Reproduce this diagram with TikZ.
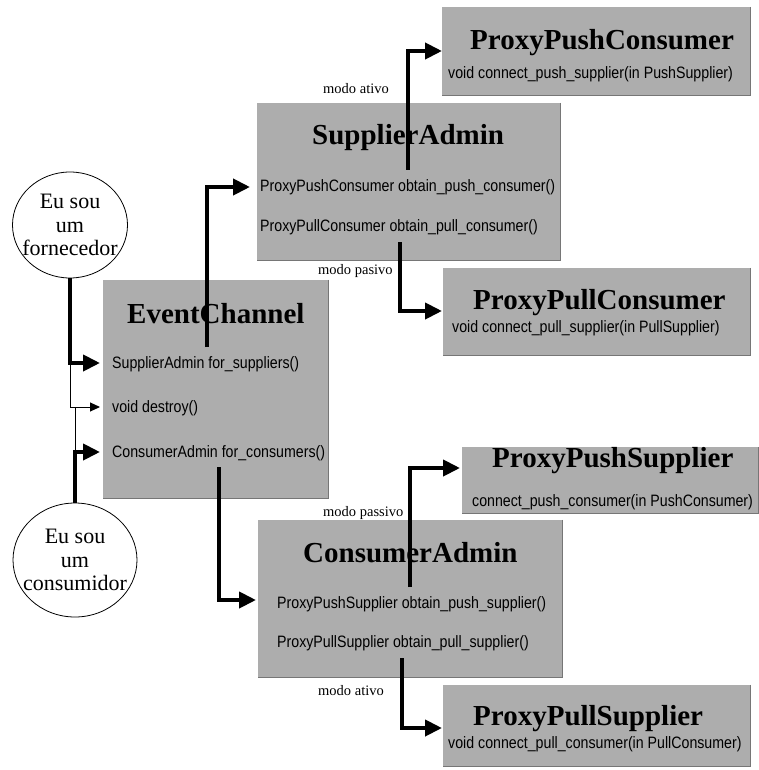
\documentclass[tikz,border=0pt]{standalone}
\usepackage{fontspec}
\setmainfont{Liberation Serif}
\newfontfamily\methodfont[FakeStretch=0.86]{Liberation Sans}
\usetikzlibrary{arrows.meta,shapes.geometric}
\definecolor{panelgray}{RGB}{173,173,173}
\definecolor{paneledge}{RGB}{118,118,118}
\begin{document}
\begin{tikzpicture}[x=1pt,y=-1pt,
  panel/.style={fill=panelgray, inner sep=0pt},
  edge/.style={draw=paneledge, line width=1.3pt},
  title/.style={anchor=base west, inner sep=0pt, font=\fontsize{29}{31}\selectfont\bfseries},
  method/.style={anchor=base west, inner sep=0pt, font=\methodfont\fontsize{16.5}{18}\selectfont},
  modelabel/.style={anchor=base west, inner sep=0pt, font=\fontsize{14.5}{16}\selectfont},
  actor/.style={ellipse, draw, line width=0.8pt, inner sep=0pt},
  actortext/.style={align=center, inner sep=0pt, font=\fontsize{22}{23.5}\selectfont},
  flow/.style={line width=4pt, line join=miter, -{Triangle[length=17pt,width=16pt]}},
  thinflow/.style={line width=1pt, -{Triangle[length=10pt,width=9pt]}},
  thinlink/.style={line width=1pt}]
\useasboundingbox (0,0) rectangle (758,770);
\fill[white] (0,0) rectangle (758,770);

% panels
\node[panel, minimum width=308pt, minimum height=88pt]  (ppc)  at (596,51)    {};
\node[panel, minimum width=303pt, minimum height=157pt] (sa)   at (408.5,181.5) {};
\node[panel, minimum width=307pt, minimum height=87pt]  (pplc) at (596.5,311.5) {};
\node[panel, minimum width=225pt, minimum height=218pt] (ec)   at (215.5,389) {};
\node[panel, minimum width=296pt, minimum height=66pt]  (pps)  at (610,480)   {};
\node[panel, minimum width=304pt, minimum height=157pt] (ca)   at (410,598.5) {};
\node[panel, minimum width=307pt, minimum height=81pt]  (pls)  at (596.5,725.5) {};
\foreach \b in {ppc,sa,pplc,ec,pps,ca,pls}
  \draw[edge] (\b.north east) -- (\b.south east) -- (\b.south west);

% titles
\node[title] (ppc-t)  at (470,50)  {ProxyPushConsumer};
\node[title] (sa-t)   at (312,145) {SupplierAdmin};
\node[title] (pplc-t) at (473,309) {ProxyPullConsumer};
\node[title] (ec-t)   at (127,323) {EventChannel};
\node[title] (pps-t)  at (492,467) {ProxyPushSupplier};
\node[title] (ca-t)   at (303,562) {ConsumerAdmin};
\node[title] (pls-t)  at (473,725) {ProxyPullSupplier};

% operations
\node[method] (ppc-m)  at (448,79)  {void connect\_push\_supplier(in PushSupplier)};
\node[method] (sa-m1)  at (260,191) {ProxyPushConsumer obtain\_push\_consumer()};
\node[method] (sa-m2)  at (260,231) {ProxyPullConsumer obtain\_pull\_consumer()};
\node[method] (pplc-m) at (452,332) {void connect\_pull\_supplier(in PullSupplier)};
\node[method] (ec-m1)  at (112,368) {SupplierAdmin for\_suppliers()};
\node[method] (ec-m2)  at (112,412) {void destroy()};
\node[method] (ec-m3)  at (112,457) {ConsumerAdmin for\_consumers()};
\node[method] (pps-m)  at (472,506) {connect\_push\_consumer(in PushConsumer)};
\node[method] (ca-m1)  at (277,608) {ProxyPushSupplier obtain\_push\_supplier()};
\node[method] (ca-m2)  at (277,647) {ProxyPullSupplier obtain\_pull\_supplier()};
\node[method] (pls-m)  at (448,748) {void connect\_pull\_consumer(in PullConsumer)};

% mode labels
\node[modelabel] (lbl-a1) at (323,94)  {modo ativo};
\node[modelabel] (lbl-p1) at (318,274) {modo pasivo};
\node[modelabel] (lbl-p2) at (323,516) {modo passivo};
\node[modelabel] (lbl-a2) at (318,695) {modo ativo};

% actors
\node[actor, minimum width=115pt, minimum height=106pt] (forn) at (70,225) {};
\node[actortext] (forn-t) at (forn) {Eu sou\\um\\fornecedor};
\node[actor, minimum width=124pt, minimum height=114pt] (cons) at (75,560) {};
\node[actortext] (cons-t) at (cons) {Eu sou\\um\\consumidor};

% connector end points
\coordinate (ec-up)  at (207,347);
\coordinate (ec-dn)  at (219,467);
\coordinate (sa-in)  at (250,187);
\coordinate (sa-up)  at (408,170);
\coordinate (sa-dn)  at (400,242);
\coordinate (ca-in)  at (256,600);
\coordinate (ca-up)  at (410,587);
\coordinate (ca-dn)  at (402,658);
\coordinate (ppc-in) at (442,51);
\coordinate (pplc-in) at (442,311);
\coordinate (pps-in) at (460,468);
\coordinate (pls-in) at (442,728);
\coordinate (ec-in1) at (100,363);
\coordinate (ec-in2) at (100,407);
\coordinate (ec-in3) at (100,452);

% connectors
\draw[flow] (ec-up) |- (sa-in);
\draw[flow] (sa-up) |- (ppc-in);
\draw[flow] (sa-dn) |- (pplc-in);
\draw[flow] (ec-dn) |- (ca-in);
\draw[flow] (ca-up) |- (pps-in);
\draw[flow] (ca-dn) |- (pls-in);
\draw[flow] (forn.south) |- (ec-in1);
\draw[thinflow] (forn.south |- ec-in1) |- (ec-in2);
\draw[thinlink] (cons.north |- ec-in3) -- (cons.north |- ec-in2);
\draw[flow] (cons.north) |- (ec-in3);
\end{tikzpicture}
\end{document}
